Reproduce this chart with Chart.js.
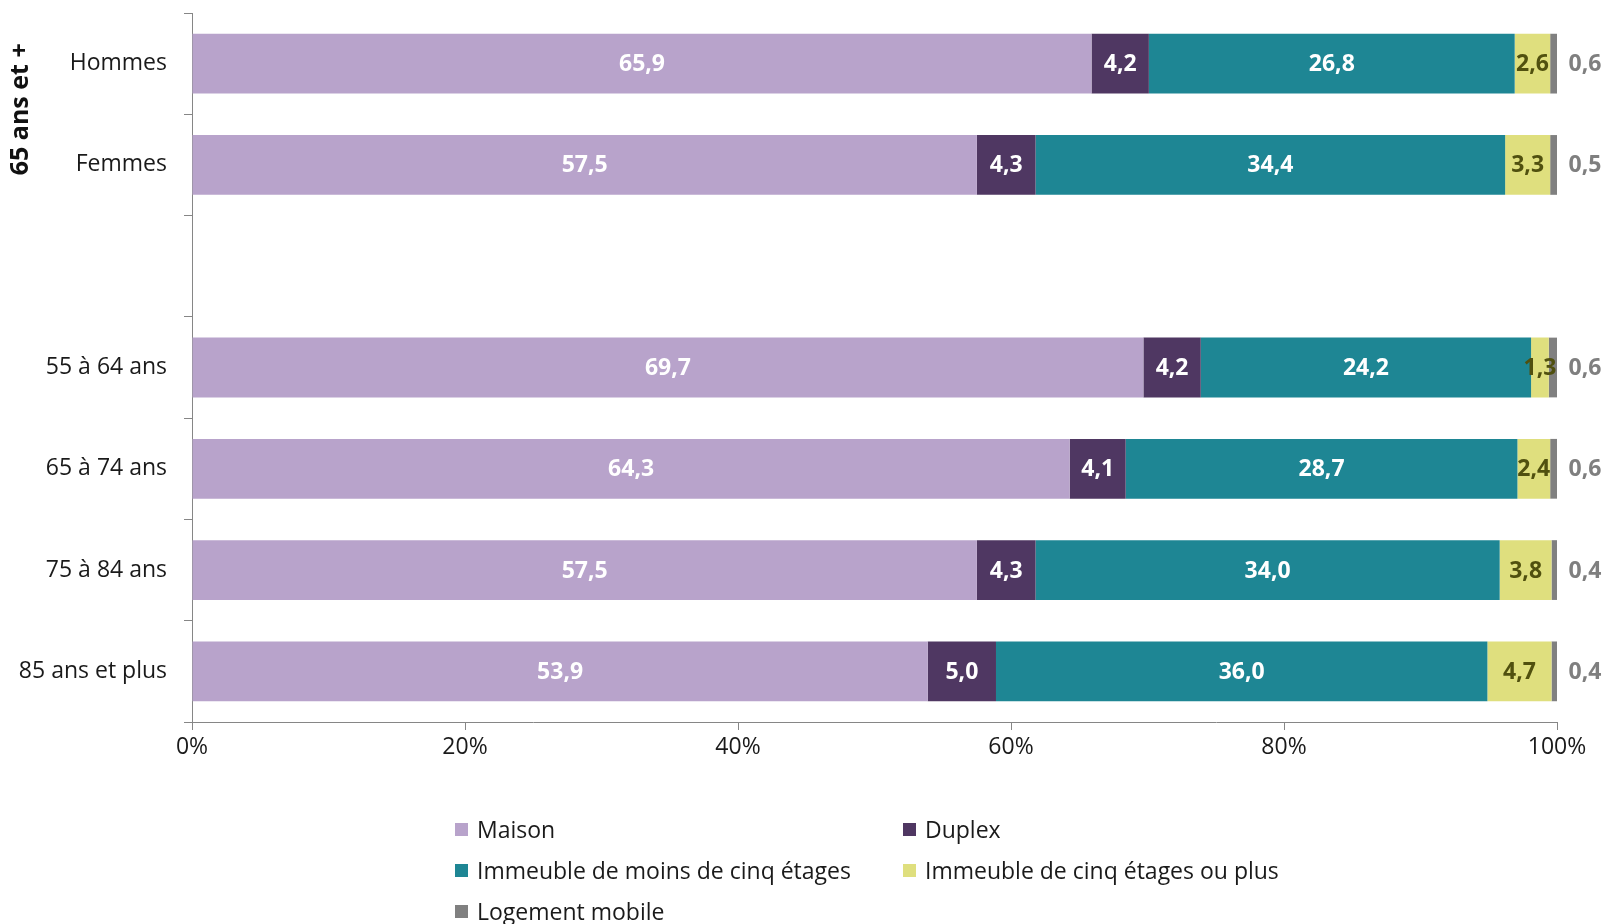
<!DOCTYPE html>
<html>
<head>
<meta charset="utf-8">
<script src="https://cdn.jsdelivr.net/npm/chart.js@4/dist/chart.umd.min.js"></script>
<style>
  html, body { margin: 0; padding: 0; background: #fff; }
  #wrap { position: relative; width: 1605px; height: 924px; }
  #legend { position: absolute; left: 0; top: 0; width: 1605px; height: 924px; pointer-events: none;
            font-family: "Open Sans", sans-serif; font-size: 23px; color: #1a1a1a; }
  .item { position: absolute; display: flex; align-items: center; white-space: nowrap; transform: translateY(-50%); }
  .sw { width: 13px; height: 13px; margin-right: 9px; }
</style>
</head>
<body>
<div id="wrap">
  <canvas id="chart" width="1605" height="924"></canvas>
  <div id="legend"></div>
</div>
<script>
const categories = ["Hommes", "Femmes", "", "55 à 64 ans", "65 à 74 ans", "75 à 84 ans", "85 ans et plus"];
const seriesNames = ["Maison", "Duplex", "Immeuble de moins de cinq étages", "Immeuble de cinq étages ou plus", "Logement mobile"];
const maison = [65.9, 57.5, null, 69.7, 64.3, 57.5, 53.9];
const duplex = [4.2, 4.3, null, 4.2, 4.1, 4.3, 5.0];
const immMoins = [26.8, 34.4, null, 24.2, 28.7, 34.0, 36.0];
const immPlus = [2.6, 3.3, null, 1.3, 2.4, 3.8, 4.7];
const mobile = [0.6, 0.5, null, 0.6, 0.6, 0.4, 0.4];
const xTicks = [0, 20, 40, 60, 80, 100];
const groupTitle = "65 ans et +";

const colors = ["#B8A3CB", "#4F3762", "#1E8694", "#DFDF7E", "#808080"];
const labelColors = ["#ffffff", "#ffffff", "#ffffff", "#50500F", "#7F7F7F"];
const values = [maison, duplex, immMoins, immPlus, mobile];
const FONT = '"Open Sans", sans-serif';

const fmt = v => v.toFixed(1).replace(".", ",");

const barLabels = {
  id: "barLabels",
  afterDatasetsDraw(chart) {
    const ctx = chart.ctx;
    ctx.save();
    ctx.font = "bold 23px " + FONT;
    ctx.textAlign = "center";
    ctx.textBaseline = "middle";
    chart.data.datasets.forEach((ds, di) => {
      const meta = chart.getDatasetMeta(di);
      meta.data.forEach((el, i) => {
        const v = ds.data[i];
        if (v == null) return;
        let x = (el.x + el.base) / 2;
        if (di === 4) x = chart.chartArea.right + 28;
        ctx.fillStyle = labelColors[di];
        ctx.fillText(fmt(v), x, el.y + 1);
      });
    });
    // vertical group title
    const y = chart.scales.y;
    const cy = (y.getPixelForValue(0) + y.getPixelForValue(1)) / 2;
    ctx.translate(21, cy - 5);
    ctx.rotate(-Math.PI / 2);
    ctx.font = "bold 25px " + FONT;
    ctx.fillStyle = "#111";
    ctx.fillText(groupTitle, 0, 0);
    ctx.restore();
  }
};

new Chart(document.getElementById("chart"), {
  type: "bar",
  data: {
    labels: categories,
    datasets: seriesNames.map((name, i) => ({
      label: name,
      data: values[i],
      backgroundColor: colors[i],
      borderWidth: 0,
      barPercentage: 0.59,
      categoryPercentage: 1
    }))
  },
  options: {
    indexAxis: "y",
    responsive: false,
    animation: false,
    layout: { padding: { left: 0, right: 48, top: 13, bottom: 152 } },
    plugins: { legend: { display: false }, tooltip: { enabled: false } },
    scales: {
      x: {
        stacked: true,
        min: 0,
        max: 100,
        afterBuildTicks: s => { s.ticks = xTicks.map(v => ({ value: v })); },
        afterFit: s => { s.height = 50; },
        grid: { drawOnChartArea: false, tickLength: 8, color: "#868686" },
        border: { color: "#868686" },
        ticks: { callback: v => v + "%", color: "#1a1a1a", font: { family: FONT, size: 23 }, padding: 4 }
      },
      y: {
        stacked: true,
        afterFit: s => { s.width = 192; s.paddingTop = 0; s.paddingBottom = 0; },
        grid: { drawOnChartArea: false, tickLength: 8, color: "#868686", offset: true },
        border: { color: "#868686" },
        ticks: { color: "#1a1a1a", font: { family: FONT, size: 23 }, padding: 17 }
      }
    }
  },
  plugins: [barLabels]
});

// legend
const legendPos = [[455, 829], [903, 829], [455, 870], [903, 870], [455, 911]];
const legend = document.getElementById("legend");
seriesNames.forEach((name, i) => {
  const d = document.createElement("div");
  d.className = "item";
  d.style.left = legendPos[i][0] + "px";
  d.style.top = legendPos[i][1] + "px";
  d.innerHTML = '<span class="sw" style="background:' + colors[i] + '"></span><span>' + name + '</span>';
  legend.appendChild(d);
});
</script>
</body>
</html>
